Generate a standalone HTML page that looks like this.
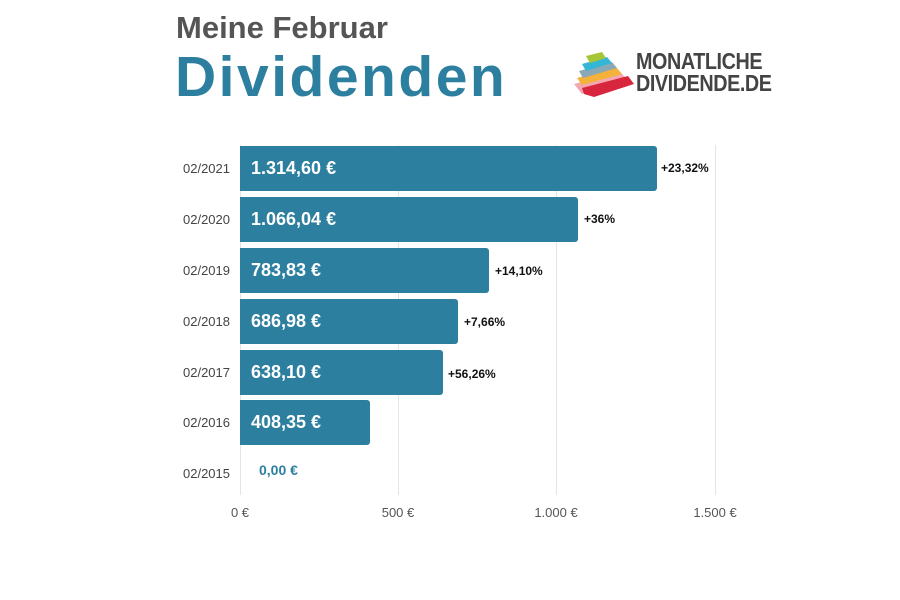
<!DOCTYPE html>
<html><head><meta charset="utf-8"><style>
body{margin:0;width:900px;height:600px;background:#fff;position:relative;overflow:hidden;font-family:"Liberation Sans",sans-serif}
.a{position:absolute}
.g{position:absolute;top:145px;height:350px;width:1px;background:#e4e4e4}
.bar{position:absolute;left:240px;height:45px;background:#2d7f9f;border-radius:0 3px 3px 0;color:#fff;font-weight:bold;font-size:18px;line-height:45px;padding-left:11px;box-sizing:border-box}
.yl{position:absolute;left:160px;width:70px;text-align:right;font-size:13px;color:#444}
.pc{position:absolute;font-size:12px;font-weight:bold;color:#111}
.xl{position:absolute;top:505px;font-size:13px;color:#555;width:80px;text-align:center}
</style></head><body>
<div class="a" style="left:176px;top:10px;font-size:31px;font-weight:bold;color:#555">Meine Februar</div>
<div class="a" style="left:175px;top:44px;font-size:57px;font-weight:bold;color:#2d7f9f;letter-spacing:2.5px">Dividenden</div>
<svg class="a" style="left:572px;top:50px" width="66" height="48" viewBox="0 0 66 48">
<polygon points="2,34 48,22 56,30 10,44" fill="#f4a7b0"/>
<polygon points="10,38 56,26 62,34 22,47 12,44" fill="#d7263d"/>
<polygon points="5,28 44,17 50,24 10,35" fill="#f4b23a"/>
<polygon points="7,21 40,12 45,18 11,28" fill="#8aa9b5"/>
<polygon points="10,14 35,7 40,13 14,21" fill="#35b6d6"/>
<polygon points="14,6 30,2 34,8 18,13" fill="#a6c537"/>
</svg>
<div class="a" style="left:636px;top:50px;font-size:23px;font-weight:bold;color:#444;line-height:22px;letter-spacing:-0.5px;transform:scaleX(0.86);transform-origin:left">MONATLICHE<br>DIVIDENDE.DE</div>
<div class="g" style="left:240px"></div>
<div class="g" style="left:398px"></div>
<div class="g" style="left:556px"></div>
<div class="g" style="left:715px"></div>
<div class="bar" style="top:146px;width:417px">1.314,60 €</div>
<div class="bar" style="top:197px;width:338px">1.066,04 €</div>
<div class="bar" style="top:248px;width:249px">783,83 €</div>
<div class="bar" style="top:299px;width:218px">686,98 €</div>
<div class="bar" style="top:350px;width:203px">638,10 €</div>
<div class="bar" style="top:400px;width:130px">408,35 €</div>
<div class="a" style="left:259px;top:462px;font-size:14px;font-weight:bold;color:#2d7f9f">0,00 €</div>
<div class="pc" style="left:661px;top:161px">+23,32%</div>
<div class="pc" style="left:584px;top:212px">+36%</div>
<div class="pc" style="left:495px;top:264px">+14,10%</div>
<div class="pc" style="left:464px;top:315px">+7,66%</div>
<div class="pc" style="left:448px;top:367px">+56,26%</div>
<div class="yl" style="top:161px">02/2021</div>
<div class="yl" style="top:212px">02/2020</div>
<div class="yl" style="top:263px">02/2019</div>
<div class="yl" style="top:314px">02/2018</div>
<div class="yl" style="top:365px">02/2017</div>
<div class="yl" style="top:415px">02/2016</div>
<div class="yl" style="top:466px">02/2015</div>
<div class="xl" style="left:200px">0 €</div>
<div class="xl" style="left:358px">500 €</div>
<div class="xl" style="left:516px">1.000 €</div>
<div class="xl" style="left:675px">1.500 €</div>
</body></html>
